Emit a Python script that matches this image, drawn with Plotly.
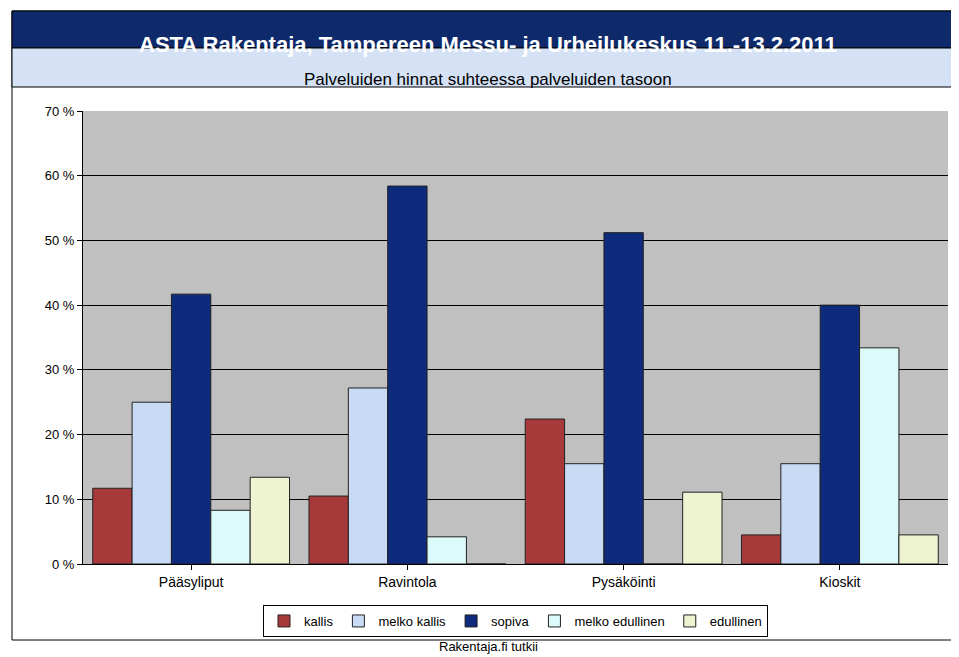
import plotly.graph_objects as go

categories = ["Pääsyliput", "Ravintola", "Pysäköinti", "Kioskit"]
series = ["kallis", "melko kallis", "sopiva", "melko edullinen", "edullinen"]
values = {
    "kallis": [11.7, 10.5, 22.4, 4.5],
    "melko kallis": [25.0, 27.2, 15.5, 15.5],
    "sopiva": [41.7, 58.4, 51.2, 40.0],
    "melko edullinen": [8.3, 4.2, 0, 33.4],
    "edullinen": [13.4, 0, 11.1, 4.5],
}
colors = ["#A8393A", "#C9DAF4", "#0E2A7C", "#DDFAFB", "#EEF3D2"]
yticks = [0, 10, 20, 30, 40, 50, 60, 70]

fig = go.Figure()
for s, c in zip(series, colors):
    fig.add_bar(x=categories, y=values[s], name=s, marker=dict(color=c, line=dict(color="#222", width=1)))

W, H = 959, 657
l, r, t, b = 75, 19, 103, 101
pw, ph = W - l - r, H - t - b
def px(x): return (x - l) / pw
def py(y): return (H - b - y) / ph

fig.update_layout(
    width=W, height=H, margin=dict(l=l, r=r, t=t, b=b, autoexpand=False),
    paper_bgcolor="white", plot_bgcolor="#C0C0C0",
    barmode="group", bargap=0.09, bargroupgap=0.0,
    font=dict(family="Arial, Liberation Sans", size=13, color="black"),
    xaxis=dict(showline=True, linecolor="black", ticks="outside", tickcolor="black", tickfont=dict(size=14), showgrid=False, automargin=False),
    yaxis=dict(range=[0, 70], tickvals=yticks, ticktext=[f"{v} %" for v in yticks], automargin=False,
               gridcolor="black", gridwidth=1, showline=True, linecolor="black", ticks="outside", tickcolor="black", zeroline=False),
    legend=dict(orientation="h", x=0.5, xanchor="center", y=py(597), yanchor="top",
                bordercolor="black", borderwidth=1, font=dict(size=13), itemwidth=30, tracegroupgap=0),
    shapes=[
        dict(type="rect", xref="paper", yref="paper", x0=px(4), x1=px(956), y0=py(632), y1=py(3), line=dict(color="black", width=1), fillcolor="rgba(0,0,0,0)", layer="below"),
        dict(type="rect", xref="paper", yref="paper", x0=px(4), x1=px(956), y0=py(40), y1=py(3), line=dict(color="black", width=1), fillcolor="#0F2A6B"),
        dict(type="rect", xref="paper", yref="paper", x0=px(4), x1=px(956), y0=py(79), y1=py(40), line=dict(color="black", width=1), fillcolor="#D5E2F5"),
    ],
    annotations=[
        dict(text="<b>ASTA Rakentaja, Tampereen Messu- ja Urheilukeskus 11.-13.2.2011</b>", xref="paper", yref="paper",
             x=px(480), y=py(22), showarrow=False, font=dict(size=22, color="white")),
        dict(text="Palveluiden hinnat suhteessa palveluiden tasoon", xref="paper", yref="paper",
             x=px(480), y=py(60), showarrow=False, font=dict(size=17, color="black")),
        dict(text="Rakentaja.fi tutkii", xref="paper", yref="paper",
             x=px(480), y=py(648), showarrow=False, font=dict(size=13, color="black")),
    ],
)
fig.write_html("out.html")
